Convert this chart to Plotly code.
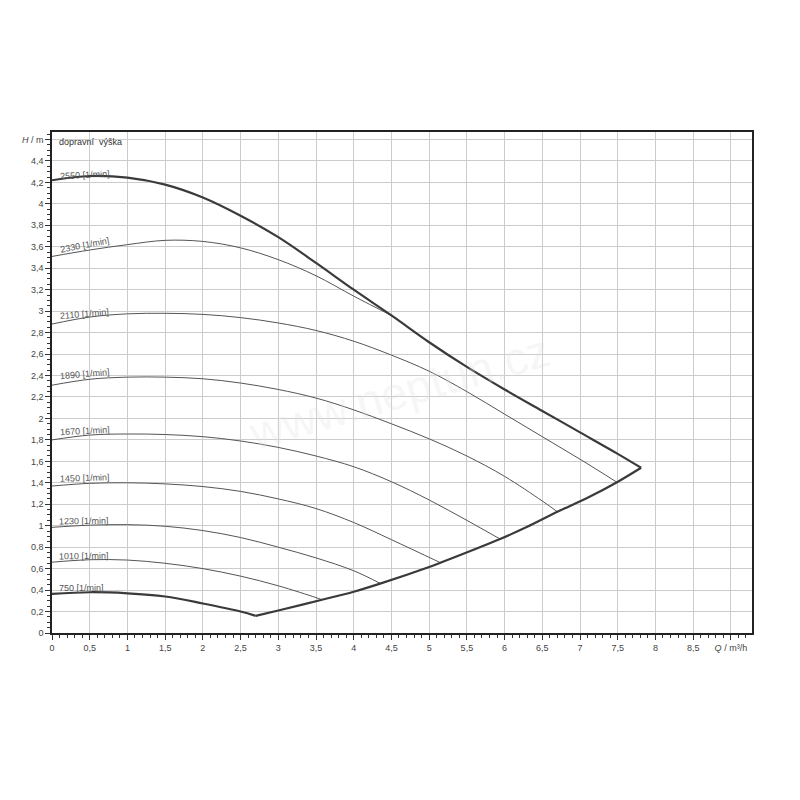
import plotly.graph_objects as go

# ---- data (Q in m3/h, H in m) ----
q_2550 = [0, 0.5, 1, 1.5, 2, 2.5, 3, 3.5, 4, 4.5, 5, 5.5, 6, 6.5, 7, 7.5, 7.81]
h_2550 = [4.22, 4.26, 4.245, 4.18, 4.06, 3.89, 3.69, 3.45, 3.20, 2.96, 2.71, 2.48, 2.27, 2.07, 1.87, 1.67, 1.54]

q_2330 = [0, 0.5, 1, 1.5, 2, 2.5, 3, 3.5, 4, 4.5]
h_2330 = [3.51, 3.57, 3.62, 3.66, 3.65, 3.59, 3.48, 3.33, 3.14, 2.96]

q_2110 = [0, 0.5, 1, 1.5, 2, 2.5, 3, 3.5, 4, 4.5, 5, 5.5, 6, 6.5, 7, 7.49]
h_2110 = [2.88, 2.945, 2.975, 2.98, 2.97, 2.94, 2.89, 2.82, 2.72, 2.59, 2.44, 2.25, 2.04, 1.83, 1.62, 1.405]

q_1890 = [0, 0.5, 1, 1.5, 2, 2.5, 3, 3.5, 4, 4.5, 5, 5.5, 6, 6.5, 6.70]
h_1890 = [2.31, 2.365, 2.385, 2.385, 2.37, 2.33, 2.27, 2.19, 2.08, 1.95, 1.81, 1.65, 1.46, 1.23, 1.13]

q_1670 = [0, 0.5, 1, 1.5, 2, 2.5, 3, 3.5, 4, 4.5, 5, 5.5, 5.94]
h_1670 = [1.80, 1.845, 1.855, 1.85, 1.83, 1.79, 1.73, 1.65, 1.55, 1.41, 1.24, 1.05, 0.876]

q_1450 = [0, 0.5, 1, 1.5, 2, 2.5, 3, 3.5, 4, 4.5, 5.15]
h_1450 = [1.37, 1.395, 1.40, 1.39, 1.365, 1.32, 1.25, 1.16, 1.03, 0.87, 0.655]

q_1230 = [0, 0.5, 1, 1.5, 2, 2.5, 3, 3.5, 4, 4.35]
h_1230 = [0.985, 1.005, 1.01, 0.995, 0.955, 0.89, 0.80, 0.70, 0.58, 0.463]

q_1010 = [0, 0.5, 1, 1.5, 2, 2.5, 3, 3.5, 3.58]
h_1010 = [0.66, 0.683, 0.68, 0.65, 0.60, 0.53, 0.44, 0.33, 0.31]

q_750 = [0, 0.5, 1, 1.5, 2, 2.5, 2.7]
h_750 = [0.365, 0.38, 0.37, 0.34, 0.275, 0.20, 0.16]

q_limit = [2.7, 3, 3.58, 4, 4.35, 5, 5.15, 5.94, 6.3, 6.7, 7.1, 7.49, 7.81]
h_limit = [0.16, 0.21, 0.31, 0.385, 0.46, 0.615, 0.655, 0.876, 0.99, 1.13, 1.26, 1.405, 1.54]

speed_labels = ["2550 [1/min]", "2330 [1/min]", "2110 [1/min]", "1890 [1/min]", "1670 [1/min]",
                "1450 [1/min]", "1230 [1/min]", "1010 [1/min]", "750 [1/min]"]
label_h = [4.27, 3.62, 2.97, 2.41, 1.88, 1.445, 1.04, 0.72, 0.42]
label_angle = [-3, -11, -5, -5, -3, -2, -1, -1, 0]

x_tickvals = [0, 0.5, 1, 1.5, 2, 2.5, 3, 3.5, 4, 4.5, 5, 5.5, 6, 6.5, 7, 7.5, 8, 8.5, 9]
x_ticktext = ["0", "0,5", "1", "1,5", "2", "2,5", "3", "3,5", "4", "4,5", "5", "5,5", "6", "6,5",
              "7", "7,5", "8", "8,5", "<i>Q</i> / m³/h"]
y_tickvals = [0, 0.2, 0.4, 0.6, 0.8, 1, 1.2, 1.4, 1.6, 1.8, 2, 2.2, 2.4, 2.6, 2.8, 3, 3.2, 3.4,
              3.6, 3.8, 4, 4.2, 4.4, 4.6]
y_ticktext = ["0", "0,2", "0,4", "0,6", "0,8", "1", "1,2", "1,4", "1,6", "1,8", "2", "2,2", "2,4",
              "2,6", "2,8", "3", "3,2", "3,4", "3,6", "3,8", "4", "4,2", "4,4", "<i>H</i> / m"]

FONT = "Liberation Sans, Arial, sans-serif"
THICK = dict(color="#3a3a3a", width=2.2)
THIN = dict(color="#555555", width=1)

fig = go.Figure()

curves = [
    (q_2330, h_2330, THIN), (q_2110, h_2110, THIN), (q_1890, h_1890, THIN),
    (q_1670, h_1670, THIN), (q_1450, h_1450, THIN), (q_1230, h_1230, THIN),
    (q_1010, h_1010, THIN), (q_2550, h_2550, THICK), (q_750, h_750, THICK),
    (q_limit, h_limit, THICK),
]
for q, h, ln in curves:
    fig.add_trace(go.Scatter(x=q, y=h, mode="lines", line=dict(shape="spline", smoothing=1.0, **ln),
                             hoverinfo="skip", showlegend=False))

for txt, hy, ang in zip(speed_labels, label_h, label_angle):
    fig.add_annotation(x=0.07, y=hy, text=txt, showarrow=False, xanchor="left", yanchor="middle",
                       textangle=ang, font=dict(family=FONT, size=9, color="#555555"))

fig.add_annotation(x=0.07, y=4.575, text="dopravní  výška", showarrow=False, xanchor="left",
                   yanchor="middle", font=dict(family=FONT, size=9, color="#333333"))

# faint watermark
fig.add_annotation(x=4.6, y=2.25, text="www.neptun.cz", showarrow=False, textangle=-16,
                   font=dict(family=FONT, size=46, color="rgba(225,225,225,0.3)"))

fig.update_xaxes(range=[0, 9.28], tickvals=x_tickvals, ticktext=x_ticktext, automargin=False,
                 showgrid=True, gridcolor="#cccccc", gridwidth=1, zeroline=False,
                 showline=True, linecolor="#222222", linewidth=1.5, mirror=True,
                 ticks="outside", ticklen=5, tickcolor="#333333",
                 minor=dict(dtick=0.1, ticks="outside", ticklen=3, tickcolor="#333333", showgrid=False),
                 tickfont=dict(family=FONT, size=9, color="#444444"))
fig.update_yaxes(range=[0, 4.67], tickvals=y_tickvals, ticktext=y_ticktext, automargin=False,
                 showgrid=True, gridcolor="#cccccc", gridwidth=1, zeroline=False,
                 showline=True, linecolor="#222222", linewidth=1.5, mirror=True,
                 ticks="outside", ticklen=5, tickcolor="#333333",
                 minor=dict(dtick=0.05, ticks="outside", ticklen=3, tickcolor="#333333", showgrid=False),
                 tickfont=dict(family=FONT, size=9, color="#444444"))

# page body adds an 8px offset, so margins are shifted accordingly
fig.update_layout(width=800, height=800, plot_bgcolor="white", paper_bgcolor="white",
                  margin=dict(l=44, r=56, t=124, b=175), showlegend=False,
                  font=dict(family=FONT))

fig.write_html("out.html")
